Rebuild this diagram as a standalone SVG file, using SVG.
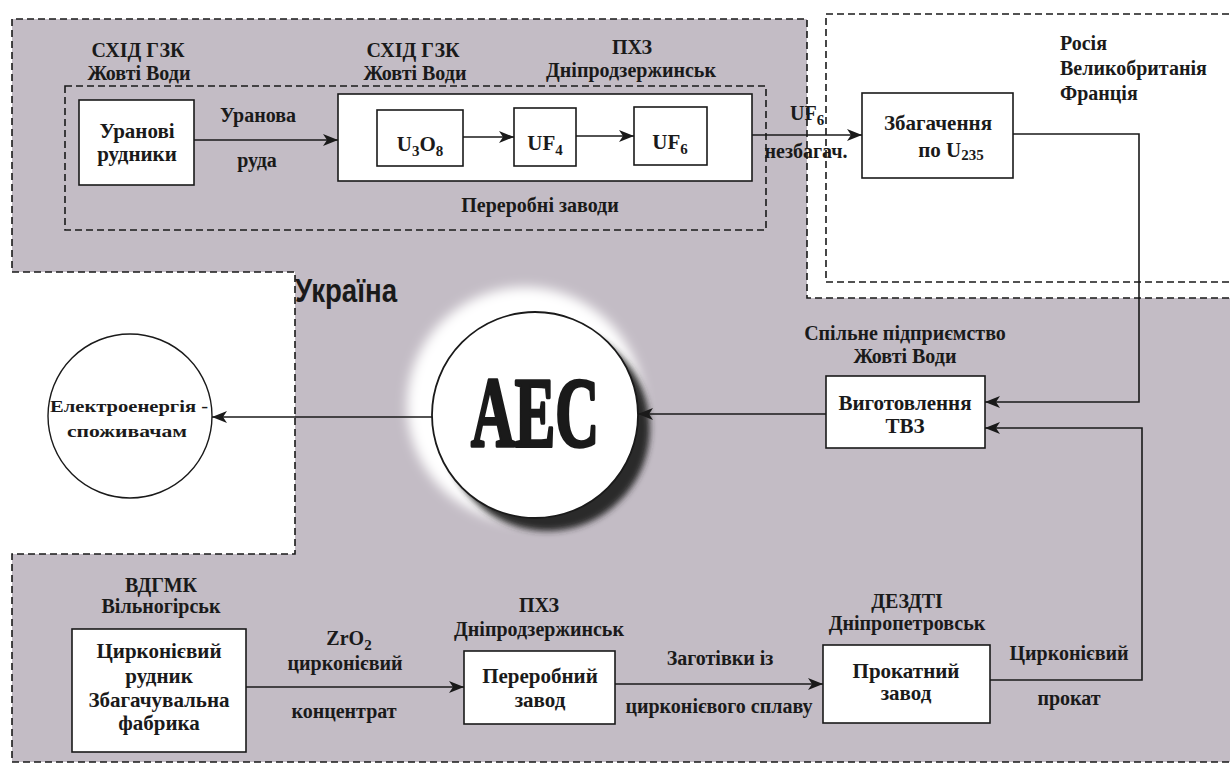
<svg xmlns="http://www.w3.org/2000/svg" width="1230" height="773" viewBox="0 0 1230 773">
<style>
  text { font-family: "Liberation Serif", "Times New Roman", serif; font-weight: bold; fill: #1a1a1a; }
  .lbl { font-size: 20px; text-anchor: middle; }
  .box-t { font-size: 21px; text-anchor: middle; }
  .box { fill: #ffffff; stroke: #1a1a1a; stroke-width: 1.6; }
  .dash { fill: none; stroke: #1a1a1a; stroke-width: 1.6; stroke-dasharray: 7 4; }
  .conn { fill: none; stroke: #1a1a1a; stroke-width: 1.6; }
  .arr { marker-end: url(#ah); }
</style>
<defs>
  <marker id="ah" markerUnits="userSpaceOnUse" markerWidth="16" markerHeight="12" refX="15" refY="6" orient="auto">
    <path d="M0,0 L15,6 L0,12 L4,6 Z" fill="#1a1a1a"/>
  </marker>
  <filter id="blur6" x="-30%" y="-30%" width="160%" height="160%"><feGaussianBlur stdDeviation="6"/></filter>
  <filter id="blur3" x="-30%" y="-30%" width="160%" height="160%"><feGaussianBlur stdDeviation="3"/></filter>
</defs>
<rect x="0" y="0" width="1230" height="773" fill="#ffffff"/>

<g id="regions">
  <path d="M1240,298 H807 V19 H12 V272 H295 V554 H12 V762 H1240 Z" fill="#c3bcc5"/>
  <path class="dash" d="M1240,298 H807 V19 H12 V272 H295 V554 H12 V762 H1240"/>
  <path fill="#ffffff" class="dash" d="M1240,14 H826 V282 H1240"/>
  <rect class="dash" x="65" y="86" width="701" height="144"/>
  <text x="295" y="302" style="font-family:'Liberation Sans Narrow','Liberation Sans',sans-serif;font-size:34px" textLength="102" lengthAdjust="spacingAndGlyphs">Україна</text>
  <text class="lbl" x="540" y="212">Переробні заводи</text>
  <text x="1060" y="50" style="font-size:20px">Росія</text>
  <text x="1060" y="75" style="font-size:20px">Великобританія</text>
  <text x="1060" y="100" style="font-size:20px">Франція</text>
</g>

<g id="node-uranium-mines">
  <text class="lbl" x="138" y="57">СХІД ГЗК</text>
  <text class="lbl" x="139" y="80">Жовті Води</text>
  <rect class="box" x="79" y="100" width="115" height="85"/>
  <text class="box-t" x="137" y="138">Уранові</text>
  <text class="box-t" x="137" y="161">рудники</text>
</g>

<g id="node-processing">
  <text class="lbl" x="413" y="57">СХІД ГЗК</text>
  <text class="lbl" x="415" y="80">Жовті Води</text>
  <text class="lbl" x="632" y="54">ПХЗ</text>
  <text class="lbl" x="631" y="77">Дніпродзержинськ</text>
  <rect class="box" x="338" y="94" width="414" height="87"/>
</g>

<g id="node-u3o8">
  <rect class="box" x="377" y="110" width="86" height="56"/>
  <text class="box-t" x="420" y="151">U<tspan font-size="15" dy="5">3</tspan><tspan dy="-5">O</tspan><tspan font-size="15" dy="5">8</tspan></text>
</g>
<g id="node-uf4">
  <rect class="box" x="514" y="108" width="62" height="58"/>
  <text class="box-t" x="545" y="150">UF<tspan font-size="15" dy="5">4</tspan></text>
</g>
<g id="node-uf6">
  <rect class="box" x="634" y="107" width="73" height="58"/>
  <text class="box-t" x="670" y="149">UF<tspan font-size="15" dy="5">6</tspan></text>
</g>

<g id="node-enrichment">
  <rect class="box" x="862" y="93" width="151" height="85"/>
  <text class="box-t" x="938" y="130">Збагачення</text>
  <text class="box-t" x="951" y="157">по U<tspan font-size="15" dy="3">235</tspan></text>
</g>

<g id="node-tvz">
  <text class="lbl" x="905" y="340">Спільне підприємство</text>
  <text class="lbl" x="905" y="363">Жовті Води</text>
  <rect class="box" x="826" y="376" width="159" height="72"/>
  <text class="box-t" x="905" y="410">Виготовлення</text>
  <text class="box-t" x="905" y="433">ТВЗ</text>
</g>

<g id="node-aes">
  <circle cx="525" cy="405" r="118" fill="#ffffff" filter="url(#blur6)"/>
  <circle cx="547" cy="428" r="103" fill="#2a2a2a" filter="url(#blur3)"/>
  <circle cx="535" cy="415" r="103" fill="#ffffff" stroke="#1a1a1a" stroke-width="1.8"/>
  <text x="535" y="446" text-anchor="middle" style="font-size:100px;stroke:#1a1a1a;stroke-width:3.5;stroke-linejoin:round" textLength="128" lengthAdjust="spacingAndGlyphs">АЕС</text>
</g>

<g id="node-consumers">
  <circle cx="130" cy="416" r="82" fill="#ffffff" stroke="#1a1a1a" stroke-width="1.4"/>
  <text x="129" y="412" text-anchor="middle" style="font-size:17px" textLength="158" lengthAdjust="spacingAndGlyphs">Електроенергія -</text>
  <text x="127" y="437" text-anchor="middle" style="font-size:17px" textLength="120" lengthAdjust="spacingAndGlyphs">споживачам</text>
</g>

<g id="node-zirconium-mine">
  <text class="lbl" x="161" y="592">ВДГМК</text>
  <text class="lbl" x="161" y="613">Вільногірськ</text>
  <rect class="box" x="72" y="629" width="174" height="123"/>
  <text class="box-t" x="159" y="658">Цирконієвий</text>
  <text class="box-t" x="159" y="683">рудник</text>
  <text class="box-t" x="159" y="707">Збагачувальна</text>
  <text class="box-t" x="159" y="730">фабрика</text>
</g>

<g id="node-processing-plant">
  <text class="lbl" x="539" y="612">ПХЗ</text>
  <text class="lbl" x="539" y="636">Дніпродзержинськ</text>
  <rect class="box" x="464" y="651" width="151" height="73"/>
  <text class="box-t" x="540" y="683">Переробний</text>
  <text class="box-t" x="540" y="707">завод</text>
</g>

<g id="node-rolling-mill">
  <text class="lbl" x="907" y="608">ДЕЗДТІ</text>
  <text class="lbl" x="907" y="630">Дніпропетровськ</text>
  <rect class="box" x="823" y="645" width="167" height="78"/>
  <text class="box-t" x="906" y="678">Прокатний</text>
  <text class="box-t" x="906" y="700">завод</text>
</g>

<g id="connectors">
  <path class="conn arr" d="M194,140 H338"/>
  <path class="conn arr" d="M463,137 H514"/>
  <path class="conn arr" d="M576,136 H634"/>
  <path class="conn arr" d="M752,135 H862"/>
  <path class="conn arr" d="M1013,134 H1139 V402 H985"/>
  <path class="conn arr" d="M826,414 H638"/>
  <path class="conn arr" d="M432,417 H212"/>
  <path class="conn arr" d="M246,687 H464"/>
  <path class="conn arr" d="M615,684 H823"/>
  <path class="conn arr" d="M990,680 H1142 V428 H985"/>
  <text class="lbl" x="258" y="122">Уранова</text>
  <text class="lbl" x="257" y="167">руда</text>
  <text x="790" y="120" style="font-size:20px">UF<tspan font-size="15" dy="5">6</tspan></text>
  <text class="lbl" x="806" y="158">незбагач.</text>
  <text class="lbl" x="349" y="645">ZrO<tspan font-size="15" dy="5">2</tspan></text>
  <text class="lbl" x="345" y="670">цирконієвий</text>
  <text class="lbl" x="344" y="718">концентрат</text>
  <text class="lbl" x="720" y="665">Заготівки із</text>
  <text class="lbl" x="719" y="713">цирконієвого сплаву</text>
  <text class="lbl" x="1069" y="660">Цирконієвий</text>
  <text class="lbl" x="1069" y="705">прокат</text>
</g>
</svg>
